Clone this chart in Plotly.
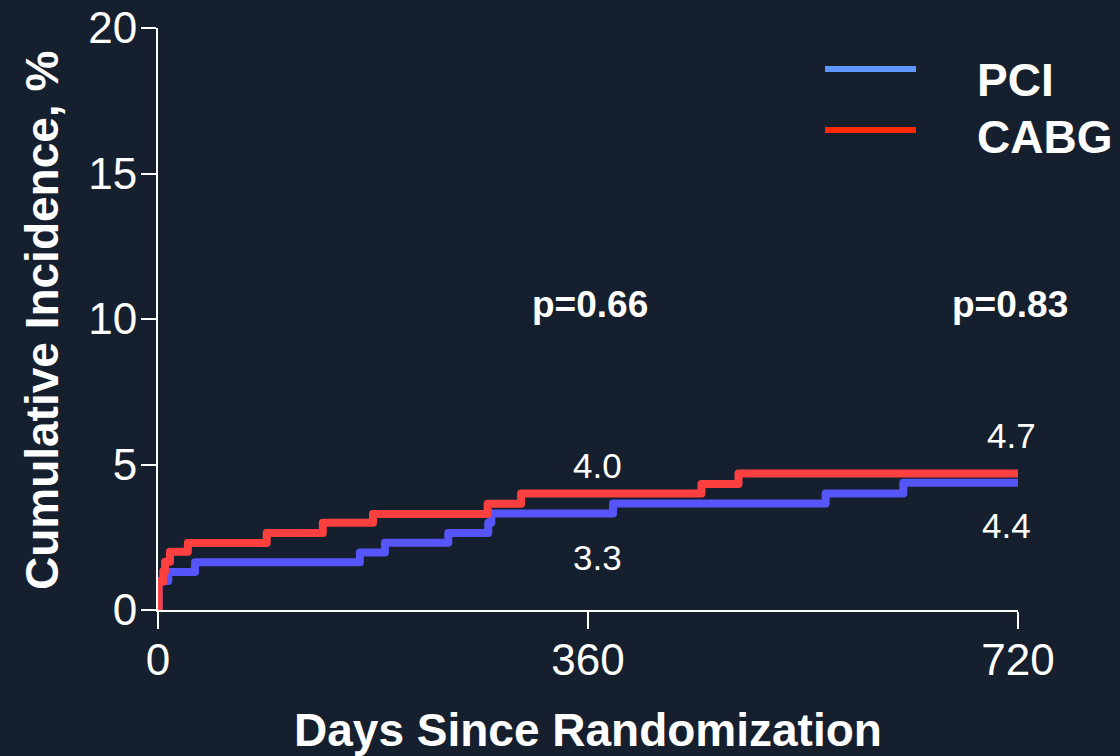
import plotly.graph_objects as go

# ---- data ----
pci_days = [0, 0.5, 8.6, 31, 169, 190, 243, 276.5, 279, 381, 559, 624, 720]
pci_inc = [0, 1.0, 1.31, 1.64, 1.98, 2.31, 2.65, 3.0, 3.32, 3.66, 4.0, 4.37, 4.37]
cabg_days = [0, 0.5, 4.4, 6, 10, 25, 91, 138, 180, 276, 304, 455, 486, 720]
cabg_inc = [0, 0.97, 1.33, 1.66, 2.0, 2.3, 2.65, 3.0, 3.3, 3.65, 4.0, 4.33, 4.69, 4.69]

x_ticks = [0, 360, 720]
y_ticks = [0, 5, 10, 15, 20]

series_names = ["PCI", "CABG"]
p_labels = ["p=0.66", "p=0.83"]
p_x = [361.7, 713.7]
p_y = [10.5, 10.5]
value_labels = ["4.0", "3.3", "4.7", "4.4"]
value_x = [368, 368, 714.7, 710]
value_y = [4.95, 1.81, 6.0, 2.9]

BG = "#151F2E"
RED = "#FC4040"
BLUE = "#5555FA"
LEG_BLUE = "#5F97FF"
LEG_RED = "#FF2A00"
FONT = "Liberation Sans, Arial, sans-serif"

fig = go.Figure()
fig.add_trace(go.Scatter(x=pci_days, y=pci_inc, mode="lines", name=series_names[0],
                         line=dict(color=BLUE, width=8, shape="hv")))
fig.add_trace(go.Scatter(x=cabg_days, y=cabg_inc, mode="lines", name=series_names[1],
                         line=dict(color=RED, width=8, shape="hv")))

annotations = []
for t, x, y in zip(p_labels, p_x, p_y):
    annotations.append(dict(x=x, y=y, xref="x", yref="y", text=f"<b>{t}</b>", showarrow=False,
                            font=dict(family=FONT, size=37, color="white"),
                            xanchor="center", yanchor="middle"))
for t, x, y in zip(value_labels, value_x, value_y):
    annotations.append(dict(x=x, y=y, xref="x", yref="y", text=t, showarrow=False,
                            font=dict(family=FONT, size=35, color="white"),
                            xanchor="center", yanchor="middle"))

# axis titles
annotations.append(dict(x=0.5, y=-0.206, xref="paper", yref="paper",
                        text="<b>Days Since Randomization</b>", showarrow=False,
                        font=dict(family=FONT, size=46, color="white"),
                        xanchor="center", yanchor="middle"))
annotations.append(dict(x=-0.135, y=0.498, xref="paper", yref="paper",
                        text="<b>Cumulative Incidence, %</b>", showarrow=False, textangle=-90,
                        font=dict(family=FONT, size=46, color="white"),
                        xanchor="center", yanchor="middle"))

# legend
leg_y = [0.9296, 0.8247]
leg_cols = [LEG_BLUE, LEG_RED]
leg_text_y = [0.910, 0.812]
shapes = []
for name, ly, ty, c in zip(series_names, leg_y, leg_text_y, leg_cols):
    shapes.append(dict(type="line", xref="paper", yref="paper", x0=0.7756, x1=0.8814,
                       y0=ly, y1=ly, line=dict(color=c, width=6)))
    annotations.append(dict(x=0.9500, y=ty, xref="paper", yref="paper", text=f"<b>{name}</b>",
                            showarrow=False, font=dict(family=FONT, size=46, color="white"),
                            xanchor="left", yanchor="middle"))

fig.update_layout(
    width=1120, height=756,
    margin=dict(l=158, r=102, t=28, b=146),
    paper_bgcolor=BG, plot_bgcolor=BG,
    showlegend=False,
    font=dict(family=FONT, color="white"),
    annotations=annotations,
    shapes=shapes,
    xaxis=dict(range=[0, 720], tickvals=x_ticks, ticktext=[str(v) for v in x_ticks],
               automargin=False, ticklabelstandoff=-7,
               showgrid=False, zeroline=False, showline=True, linecolor="white", linewidth=2,
               ticks="outside", ticklen=17, tickwidth=2, tickcolor="white",
               tickfont=dict(family=FONT, size=44, color="white")),
    yaxis=dict(range=[0, 20], tickvals=y_ticks, ticktext=[str(v) for v in y_ticks],
               automargin=False, ticklabelstandoff=-5,
               showgrid=False, zeroline=False, showline=True, linecolor="white", linewidth=2,
               ticks="outside", ticklen=15, tickwidth=2, tickcolor="white",
               tickfont=dict(family=FONT, size=44, color="white")),
)

fig.write_html(
    "out.html",
    config={"displayModeBar": False},
    post_script=(
        "document.body.style.margin='0';"
        "document.body.style.background='#151F2E';"
        "document.querySelectorAll('.js-line').forEach(function(p){"
        "p.style.strokeLinejoin='round';p.style.strokeLinecap='round';});"
    ),
)
